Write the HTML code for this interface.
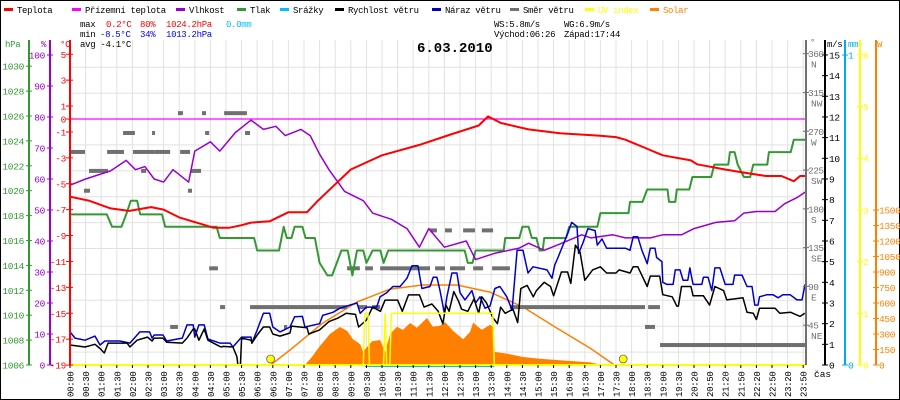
<!DOCTYPE html>
<html><head><meta charset="utf-8"><style>
html,body{margin:0;padding:0;background:#fff}
svg{display:block;font-family:"Liberation Mono",monospace}
</style></head><body>
<svg id="c" width="900" height="400" viewBox="0 0 900 400" xmlns="http://www.w3.org/2000/svg">
<rect x="0.5" y="0.5" width="899" height="399" fill="#fff" stroke="#000"/>
<g id="grid"></g>
<g id="series"></g>
<g id="axes"></g>
<g id="legend" font-size="9" letter-spacing="-0.35"></g>
<g font-size="9" letter-spacing="-0.3">
<text x="80" y="27" fill="#000">max</text><text x="106" y="27" fill="#f00">0.2°C</text><text x="140" y="27" fill="#f00">80%</text><text x="166" y="27" fill="#f00">1024.2hPa</text><text x="226" y="27" fill="#00bfff">0.0mm</text>
<text x="80" y="37" fill="#000">min</text><text x="100" y="37" fill="#00f">-8.5°C</text><text x="140" y="37" fill="#00f">34%</text><text x="166" y="37" fill="#00f">1013.2hPa</text>
<text x="80" y="47" fill="#000">avg -4.1°C</text>
<text x="494" y="27" fill="#000">WS:5.8m/s</text><text x="564" y="27" fill="#000">WG:6.9m/s</text>
<text x="494" y="37" fill="#000">Východ:06:26</text><text x="564" y="37" fill="#000">Západ:17:44</text>
</g>
<text x="417" y="52" font-size="14" font-weight="bold" fill="#000">6.03.2010</text>
</svg>
<script>
// ---- data ----
const timeLabels=["00:00","00:30","01:00","01:30","02:00","02:30","03:00","03:30","04:00","04:30","05:00","05:30","06:00","06:30","07:00","07:30","08:00","08:30","09:00","09:30","10:00","10:30","11:00","11:30","12:00","12:30","13:00","13:30","14:00","14:30","15:00","15:30","16:00","16:30","17:00","17:30","18:00","18:30","19:00","19:30","20:20","20:50","21:20","21:50","22:20","22:50","23:20","23:50"];
const tempHours=[0,0.6,1.3,1.9,2.6,3.0,3.5,4.2,4.6,5.1,5.5,5.8,6.4,7.0,7.6,7.95,8.3,9.0,10,11.2,12.2,13.1,13.4,13.8,14.7,15.7,17,17.5,17.8,18.4,19,19.9,20.1,21,21.5,22.3,22.8,23.2,23.4,23.6];
const tempValues=[-6.0,-6.3,-6.9,-7.1,-6.8,-7.0,-7.6,-8.1,-8.4,-8.4,-8.2,-8.0,-7.9,-7.2,-7.2,-6.3,-5.5,-3.9,-2.8,-2.0,-1.2,-0.5,0.2,-0.3,-0.8,-1.1,-1.3,-1.4,-1.6,-2.2,-2.8,-3.2,-3.5,-3.9,-4.1,-4.4,-4.4,-4.8,-4.4,-4.4];
const humHours=[0,0.5,1.3,1.8,2.1,2.4,2.7,3.0,3.3,3.8,4.0,4.5,4.8,5.3,5.8,6.2,6.6,6.9,7.4,7.7,8.0,8.3,8.8,9.4,9.7,10.3,10.8,11.2,11.5,12.0,12.7,13.0,13.6,14.4,14.7,15.2,15.7,16.4,16.7,17.4,17.8,18.6,19.0,19.6,20.0,20.7,21.3,21.6,22.0,22.6,22.9,23.3,23.6];
const humValues=[58,60,62.6,66,63,64,60,59,63,59,69,72,69,75,79,76,77,74,76,74,68,63,56,53,49,47,44,38,44,38,40,34,36,37.7,39.3,37,39,42,41,42,41,41,42,42,44,46,46.5,49,49.5,49.5,52,54,56];
const presHours=[0,1.18,1.35,1.65,1.8,1.95,2.15,2.25,2.95,3.05,4.7,4.8,5.9,6.0,6.7,6.85,6.95,7.1,7.2,7.45,7.55,7.85,8.0,8.25,8.4,8.55,8.7,8.9,9.05,9.2,9.4,9.5,9.7,9.95,10.05,10.2,12.65,12.75,12.9,13.0,13.9,13.95,14.4,14.5,14.7,14.8,14.95,15.05,15.15,15.2,15.9,16.0,16.9,17.0,17.9,17.95,18.35,18.5,19.15,19.2,19.4,19.45,19.85,19.95,20.55,20.65,21.1,21.15,21.3,21.4,21.6,21.8,21.9,22.35,22.4,23.1,23.2,23.6];
const presValues=[1018.1,1018.1,1017.1,1017.1,1018.1,1019.2,1019.2,1018.1,1018.1,1017.1,1017.1,1016.2,1016.2,1015.2,1015.2,1017.1,1016.2,1016.2,1017.1,1017.1,1016.2,1016.2,1014.2,1013.2,1013.2,1014.2,1015.2,1015.2,1013.2,1015.2,1015.2,1014.2,1015.2,1015.2,1014.2,1015.2,1015.2,1014.2,1014.2,1015.2,1015.2,1016.2,1016.2,1017.1,1017.1,1016.2,1016.2,1015.2,1015.2,1016.2,1016.2,1017.1,1017.1,1018.2,1018.2,1019.1,1019.1,1020.1,1020.1,1019.1,1019.1,1020.1,1020.1,1021.1,1021.1,1022.1,1022.1,1023.1,1023.1,1022.1,1021.1,1021.1,1022.1,1022.1,1023.1,1023.1,1024.1,1024.1];
const windHours=[0,0.48,0.8,0.96,1.1,1.22,1.83,1.92,2.15,2.48,2.63,2.7,2.98,3.1,3.6,3.75,3.95,4.0,4.13,4.3,4.42,4.8,4.86,4.9,5.22,5.35,5.38,5.46,5.5,5.8,5.83,6.0,6.2,6.4,6.5,6.73,7.05,7.1,7.6,7.65,8.0,8.3,8.6,8.85,9.15,9.25,9.5,9.7,9.95,10.1,10.5,10.65,10.85,11.2,11.35,11.6,11.8,11.95,12.05,12.15,12.3,12.45,12.55,12.75,12.95,13.1,13.2,13.35,13.55,13.7,13.8,13.95,14.2,14.35,14.45,14.65,14.85,14.95,15.2,15.4,15.5,15.75,15.95,16.05,16.2,16.35,16.5,16.75,17.0,17.2,17.5,17.6,17.95,18.05,18.2,18.5,18.6,18.9,19.0,19.3,19.45,19.5,19.6,19.9,19.97,20.3,20.5,20.67,20.95,21.05,21.57,21.7,21.9,22.0,22.1,22.6,22.75,23.1,23.4,23.55];
const windValues=[0.97,0.87,1.0,0.8,0.58,1.06,1.06,0.87,1.2,1.35,1.16,1.3,1.3,1.1,1.06,1.3,1.74,1.74,1.2,1.74,1.2,0.9,0.87,0.9,0.87,0.4,0,0,1.3,1.2,1.06,1.45,1.84,1.84,1.5,1.4,1.55,1.88,1.8,1.5,1.7,2.1,2.28,2.5,2.45,1.84,2.17,2.8,2.6,3.14,3.14,2.6,3.39,3.39,2.8,2.95,2.6,2.0,2.9,2.6,3.55,3.1,2.7,2.6,3.2,2.5,3.3,3.0,2.3,2.0,2.8,2.5,2.7,2.05,3.7,3.85,3.3,3.6,4.0,3.8,3.35,4.5,4.5,3.95,5.8,5.45,4.1,4.6,4.75,4.45,4.45,4.6,4.45,4.75,4.75,3.8,4.3,4.3,3.4,3.3,2.85,2.85,3.8,3.8,3.35,3.35,2.9,3.8,3.6,3.15,3.25,2.55,2.5,2.2,2.75,2.75,2.5,2.55,2.35,2.5];
const gustHours=[0,0.16,0.48,0.8,0.96,1.12,1.6,1.92,2.24,2.55,2.63,2.7,2.98,3.1,3.6,3.75,3.95,4.0,4.13,4.3,4.42,4.8,5.13,5.22,5.5,5.8,5.83,6.0,6.2,6.4,6.5,6.73,7.05,7.2,7.45,7.53,8.0,8.1,8.43,8.65,8.97,9.2,9.3,9.5,9.83,9.94,10.15,10.35,10.58,10.8,10.96,11.15,11.28,11.54,11.64,11.76,11.86,12.0,12.08,12.24,12.4,12.5,12.66,12.88,13.0,13.14,13.3,13.46,13.62,13.78,14.0,14.17,14.33,14.52,14.68,14.84,15.29,15.45,15.54,15.64,15.96,16.08,16.25,16.3,16.44,16.6,16.83,16.9,17.05,17.2,17.8,17.95,18.05,18.2,18.33,18.5,18.6,18.75,18.8,18.97,19.0,19.13,19.33,19.4,19.55,19.65,19.8,19.87,19.93,19.97,20.25,20.3,20.45,20.57,20.67,20.83,21.0,21.25,21.3,21.54,21.7,21.86,21.95,22.05,22.1,22.34,22.53,22.7,22.85,23.08,23.3,23.46,23.56];
const gustValues=[1.6,1.3,1.2,1.4,0.97,1.16,1.16,1.06,1.6,1.6,1.3,1.45,1.45,1.16,1.3,1.94,1.94,1.35,1.94,1.94,1.26,1.06,1.06,0.87,1.35,1.35,1.06,1.7,2.5,2.5,1.84,1.6,1.84,2.33,2.35,1.84,2.0,2.4,2.55,2.75,2.9,3.0,2.5,2.8,2.8,3.3,3.5,3.8,3.8,4.2,4.8,4.8,3.7,3.8,4.25,4.25,3.6,2.5,3.3,4.45,4.45,3.5,3.15,3.6,3.0,3.3,2.75,2.85,3.7,3.8,3.3,2.65,5.55,5.55,4.45,4.75,4.6,4.2,4.85,5.2,6.4,6.9,6.7,5.4,5.9,6.6,6.5,5.8,6.1,5.65,5.65,5.55,6.2,6.2,5.55,4.9,5.65,5.65,5.2,5.0,4.0,3.9,3.9,4.6,4.6,4.1,4.1,4.7,4.2,3.9,3.9,4.25,4.25,3.6,4.7,4.7,3.9,3.9,4.35,4.35,3.8,3.8,2.9,2.9,3.3,3.4,3.4,3.25,3.4,3.4,3.15,3.15,3.9];
const dirStart=[3.46,4.23,4.94,1.70,2.63,4.33,5.61,0,1.19,2.02,2.72,3.53,0.61,2.28,3.88,0.45,3.78,11.54,12.02,12.6,13.2,4.46,8.88,9.46,9.94,11.7,12.18,12.92,13.53,4.81,5.77,9.23,9.68,14.1,18.53,3.21,6.86,18.43,18.91];
const dirEnd=[3.62,4.36,5.67,2.08,2.72,4.46,5.77,0.48,1.73,2.72,3.21,3.85,1.22,2.44,4.2,0.64,3.91,11.76,12.24,12.98,13.56,4.74,9.29,9.71,11.54,12.02,12.66,13.24,14.1,4.97,8.88,9.52,9.94,18.43,18.91,3.46,6.96,18.75,23.6];
const dirDeg=[291,291,291,268,268,268,268,246,246,246,246,246,224,224,224,201,201,155,155,155,155,111,111,111,111,111,111,111,111,66,66,66,66,66,66,43,43,43,22];
const solarHours=[7.53,7.76,8.0,8.33,8.65,8.88,9.07,9.3,9.39,9.68,9.94,10.1,10.26,10.48,10.67,10.9,11.12,11.44,11.63,11.86,12.02,12.28,12.6,12.82,12.92,13.2,13.46,13.56,13.62,14.0,14.52,15.06,15.6,16.67,17.08];
const solarValues=[0,80,180,300,368,330,250,200,130,230,242,130,300,370,340,407,360,455,370,380,416,330,250,320,410,340,390,370,126,110,77,60,48,25,0];
const clearHours=[6.43,7.05,8.1,9.2,10.26,11.3,12.4,13.46,14.52,15.6,16.67,17.45];
const clearValues=[0,145,406,610,735,774,774,706,561,358,164,0];
const uvHours=[0,9.4,9.45,9.55,9.6,10.05,10.1,10.15,10.25,10.3,13.55,13.6,23.6];
const uvValues=[0,0,1,1,0,0,1,0,0,1,1,0,0];
const sunHours=[6.43,17.73];

// ---- axes ----
const X0=70,HSTEP=31.2,YB=365;
const xH=h=>X0+h*HSTEP;
const yT=t=>119-t*12.95;
const yHum=p=>YB-p*3.1;
const yP=p=>YB-(p-1006)*12.45;
const yW=v=>YB-v*20.67;
const yDir=d=>364-d*0.862;
const ySol=w=>YB-w*0.1033;
const yUV=u=>YB-u*51.7;
const NS="http://www.w3.org/2000/svg";
function mk(tag,attrs,parent,txt){const e=document.createElementNS(NS,tag);for(const k in attrs)e.setAttribute(k,attrs[k]);if(txt!==undefined)e.textContent=txt;parent.appendChild(e);return e;}
const G=document.getElementById('grid'),S=document.getElementById('series'),A=document.getElementById('axes'),L=document.getElementById('legend');

timeLabels.forEach((lb,i)=>{const x=X0+i*15.6;
 const l=mk('line',{x1:x,x2:x,y1:40,y2:YB,stroke:'#e4e0e0','stroke-width':1},G);
 
 
 const tk=mk('line',{x1:x,x2:x,y1:YB,y2:YB+3,stroke:'#000'},A);
 
 
 const t=mk('text',{transform:`translate(${x+3.5},${YB+32}) rotate(-90)`,'font-size':9,'letter-spacing':-0.3,fill:'#000'},A,lb);
 
 
});
for(let t=4;t>=-18;t-=2){const y=yT(t);
 const l=mk('line',{x1:X0,x2:806,y1:y,y2:y,stroke:t===0?'#ff00ff':'#e4e0e0','stroke-width':t===0?1.2:1},G);
 
 
}

function poly(hs,vs,yf,color,w,name){const pts=hs.map((h,i)=>xH(h).toFixed(1)+','+yf(vs[i]).toFixed(1)).join(' ');
 const p=mk('polyline',{points:pts,fill:'none',stroke:color,'stroke-width':w,'stroke-linejoin':'round'},S);
 
 return p;}
{const pts=[xH(solarHours[0])+','+YB].concat(solarHours.map((h,i)=>xH(h).toFixed(1)+','+ySol(solarValues[i]).toFixed(1))).concat([xH(solarHours[solarHours.length-1])+','+YB]).join(' ');
 const p=mk('polygon',{points:pts,fill:'#ff8000',stroke:'none'},S);
 
 }
poly(clearHours,clearValues,ySol,'#ff8000',1.5,'solar-clear-sky-line');
dirStart.forEach((s,i)=>{const r=mk('rect',{x:xH(s),y:yDir(dirDeg[i])-2,width:Math.max(3,xH(dirEnd[i])-xH(s)),height:4,fill:'#707070'},S);
 
 });
poly(presHours,presValues,yP,'#339933',2,'pressure-line');
poly(humHours,humValues,yHum,'#9900cc',1.5,'humidity-line');
poly(tempHours,tempValues,yT,'#ff0000',2,'temperature-line');
poly(gustHours,gustValues,yW,'#0000cc',1.5,'wind-gust-line');
poly(windHours,windValues,yW,'#000000',1.5,'wind-speed-line');
{const l=mk('line',{x1:xH(9.45),x2:xH(13.6),y1:YB+1,y2:YB+1,stroke:'#00bfff','stroke-width':2},S);
 
 }
poly(uvHours,uvValues,yUV,'#ffff00',1.5,'uv-line');
{const l=mk('line',{x1:X0,x2:806,y1:YB,y2:YB,stroke:'#ffff00','stroke-width':2},S);
 
 }
sunHours.forEach((h,i)=>{const c=mk('circle',{cx:xH(h),cy:YB-6,r:4,fill:'#ffff00',stroke:'#666','stroke-width':0.8},S);
 
 });

function axis(x,color,w,name,title,tx,ticks,yf,lx,anchor,fmt,tk){
 const l=mk('line',{x1:x,x2:x,y1:40,y2:YB,stroke:color,'stroke-width':w},A);
 
 
 const t=mk('text',{x:tx,y:47,'font-size':9,'letter-spacing':-0.3,fill:color},A,title);
 
 
 ticks.forEach(v=>{const y=yf(v);mk('line',{x1:x+tk[0],x2:x+tk[1],y1:y,y2:y,stroke:color},A);
  const tt=mk('text',{x:lx,y:y+3.5,'font-size':9.5,'letter-spacing':-0.3,fill:color,'text-anchor':anchor},A,fmt?fmt(v):String(v));
  
  });
}
const hpaTicks=[1006,1008,1010,1012,1014,1016,1018,1020,1022,1024,1026,1028,1030];
const humTicks=[0,10,20,30,40,50,60,70,80,90,100];
const tempTicks=[5,3,1,0,-1,-3,-5,-7,-9,-11,-13,-15,-17,-19];
const windTicks=[0,1,2,3,4,5,6,7,8,9,10,11,12,13,14,15];
const uvTicks=[0,1,2,3,4,5,6];
const solTicks=[0,150,300,450,600,750,900,1050,1200,1350,1500];
axis(29,'#339933',2,'pressure-axis','hPa',5,hpaTicks,yP,24,'end',null,[-3,3]);
axis(50,'#9900cc',2,'humidity-axis','%',41,humTicks,yHum,45,'end',null,[-3,3]);
axis(70,'#ff0000',2,'temperature-axis','°C',60,tempTicks,yT,66,'end',null,[-4,3]);
axis(825,'#000',2,'wind-speed-axis','m/s',827,windTicks,yW,829,'start',null,[-3,3]);
axis(845,'#00aaee',2,'precip-axis','mm',848,[0,1],v=>YB-v*310,848,'start',null,[-3,3]);
axis(860,'#ffff00',2,'uv-axis','',862,uvTicks,yUV,863,'start',null,[-3,3]);
axis(876,'#ff8000',2,'solar-axis','W',877,solTicks,ySol,879,'start',null,[-3,3]);
{const l=mk('line',{x1:806,x2:806,y1:40,y2:YB,stroke:'#707070','stroke-width':2},A);
 
 
 const t=mk('text',{x:810,y:45,'font-size':9,fill:'#707070'},A,'°');
 
 }
const dirTicks=[360,315,270,225,180,135,90,45];
const dirNames=['N','NW','W','SW','S','SE','E','NE'];
dirTicks.forEach((d,i)=>{const y=yDir(d);
 mk('line',{x1:803,x2:809,y1:y,y2:y,stroke:'#707070'},A);
 const t=mk('text',{x:808,y:y+3.5,'font-size':9.5,'letter-spacing':-0.5,fill:'#707070'},A,String(d));
 
 
 const n=mk('text',{x:811,y:y+14,'font-size':9.5,fill:'#707070'},A,dirNames[i]);
 
 });
{const t=mk('text',{x:814,y:377,'font-size':9.5,fill:'#000'},A,'čas');
 
 }

const legNames=['Teplota','Přízemní teplota','Vlhkost','Tlak','Srážky','Rychlost větru','Náraz větru','Směr větru','UV index','Solar'];
const legColors=['#ff0000','#ff00ff','#9900cc','#339933','#00bfff','#000000','#0000cc','#707070','#ffff00','#ff8000'];
const legX=[4,72,176,237,280,335,432,510,585,650];
legNames.forEach((n,i)=>{
 const g=mk('g',{},L);
 
 
 mk('rect',{x:legX[i],y:8,width:9,height:3,fill:legColors[i]},g);
 mk('text',{x:legX[i]+13,y:13,fill:(i===8||i===9)?legColors[i]:'#000'},g,n);
});
</script>
</body></html>
